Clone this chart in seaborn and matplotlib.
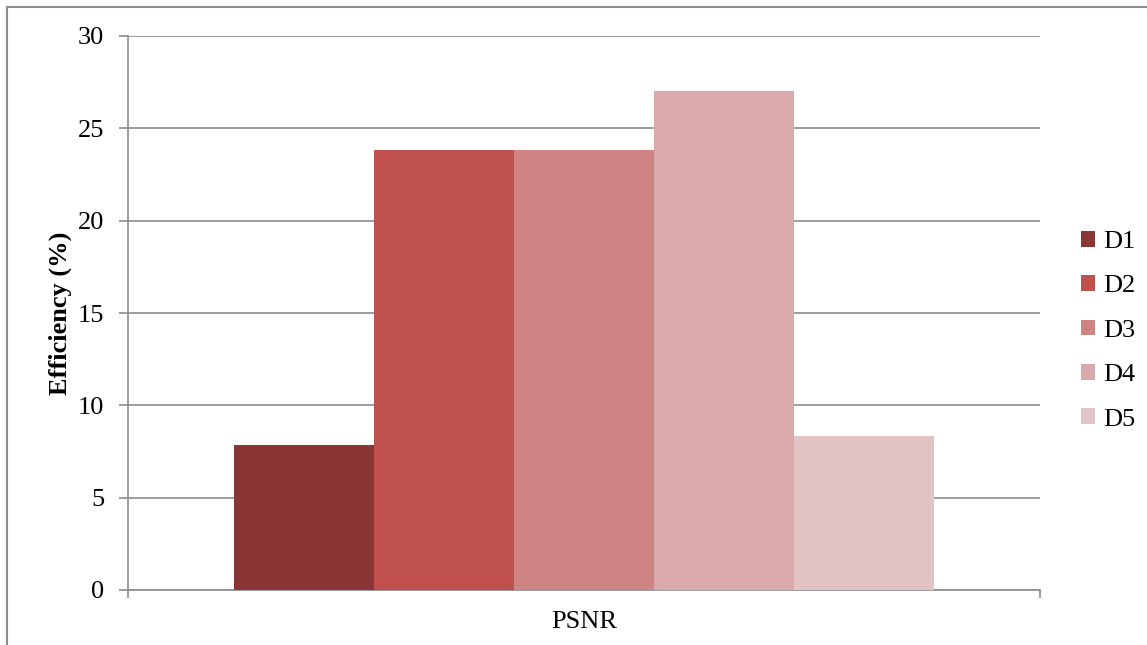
import matplotlib
matplotlib.use("Agg")
import matplotlib.pyplot as plt
import seaborn as sns
import pandas as pd
from matplotlib.patches import Rectangle

# Data
metric = ["PSNR"]
series = ["D1", "D2", "D3", "D4", "D5"]
values = [7.85, 23.8, 23.8, 27.0, 8.35]
colors = ["#893634", "#C0504D", "#CE8482", "#DAAAAA", "#E2C4C5"]
yticks = [0, 5, 10, 15, 20, 25, 30]

df = pd.DataFrame({"metric": metric * len(series), "series": series, "value": values})

sns.set_style("white")
plt.rcParams["font.family"] = ["Liberation Serif", "DejaVu Serif"]
plt.rcParams["text.color"] = "black"
plt.rcParams["xtick.color"] = "black"
plt.rcParams["ytick.color"] = "black"
plt.rcParams["axes.labelcolor"] = "black"

fig = plt.figure(figsize=(11.47, 6.45), dpi=100)
ax = fig.add_axes([128 / 1147, (645 - 590) / 645, (1040 - 128) / 1147, (590 - 36) / 645])

sns.barplot(data=df, x="metric", y="value", hue="series", palette=colors,
            width=0.768, saturation=1, linewidth=0, ax=ax, legend=True, zorder=3)

ax.set_xlim(-0.5, 0.5)
ax.set_ylim(0, 30)
ax.set_yticks(yticks)
ax.set_yticklabels([str(t) for t in yticks], fontsize=19)
ax.yaxis.grid(True, color="#8C8C8C", linewidth=1.2, zorder=0)
ax.set_axisbelow(True)

ax.set_xlabel("")
ax.set_ylabel("Efficiency (%)", fontsize=19, fontweight="bold", labelpad=4)
ax.tick_params(axis="x", which="major", bottom=False, length=0, labelsize=19, pad=15)
ax.set_xticks([-0.5, 0.5], minor=True)
ax.tick_params(axis="x", which="minor", bottom=True, length=6, width=1.2,
               color="#8C8C8C", direction="out")
ax.tick_params(axis="y", left=True, length=6.5, width=1.2, color="#8C8C8C",
               labelcolor="black", direction="out", pad=10.5)

for side in ["top", "right"]:
    ax.spines[side].set_visible(False)
for side in ["left", "bottom"]:
    ax.spines[side].set_color("#8C8C8C")
    ax.spines[side].set_linewidth(1.2)

leg = ax.legend(loc="center left", bbox_to_anchor=(1.033, 0.468), frameon=False,
                fontsize=19, handlelength=0.55, handleheight=0.55, handletextpad=0.3,
                labelspacing=0.84, borderaxespad=0)

# Outer frame around the chart
fig.patches.append(Rectangle((7 / 1147, -0.1), 1.2, (645 - 7) / 645 + 0.1,
                             transform=fig.transFigure, fill=False,
                             edgecolor="#8C8C8C", linewidth=1.5))

fig.savefig("out.png", dpi=100)
